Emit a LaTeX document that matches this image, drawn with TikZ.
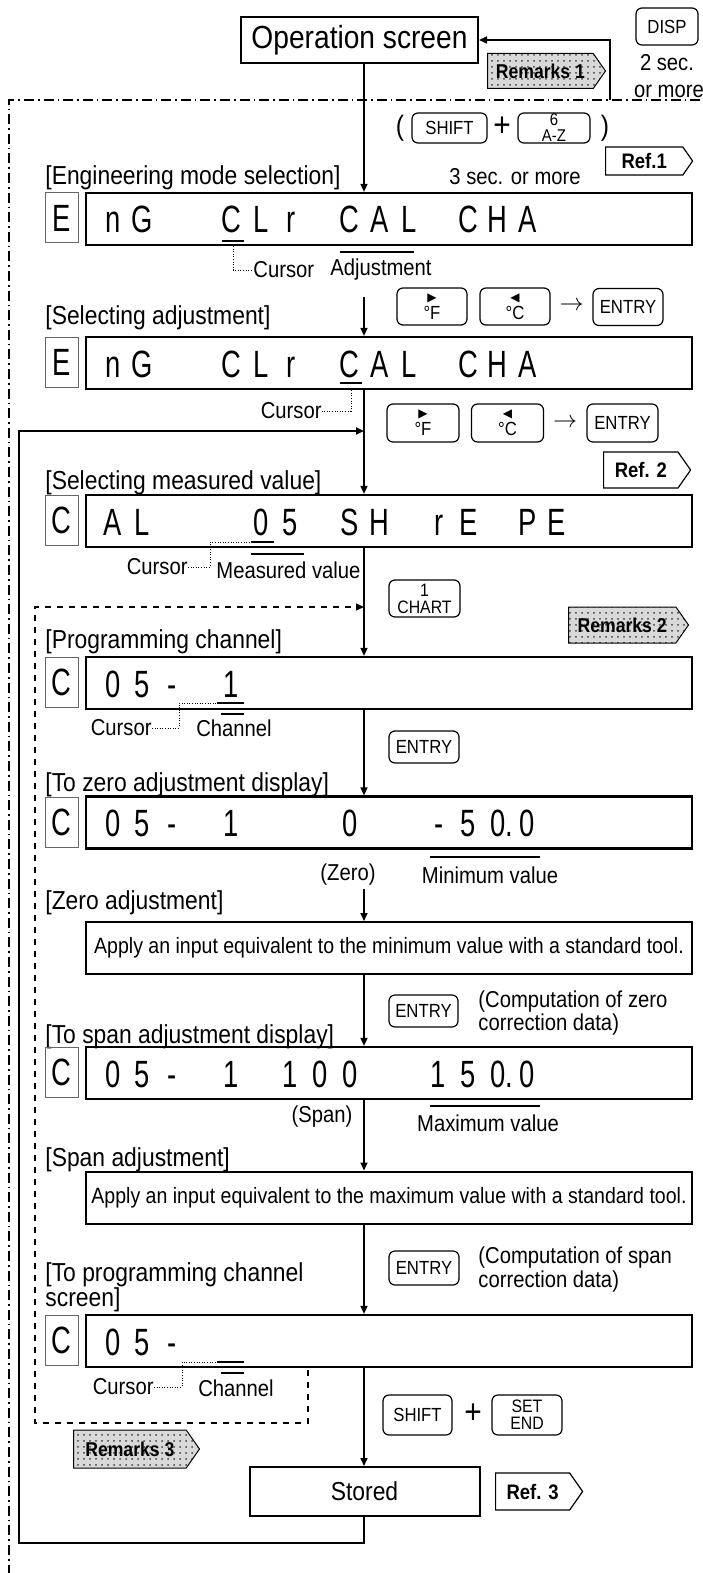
\documentclass[tikz,border=0pt]{standalone}
\usepackage{fontspec}
\setmainfont{Liberation Sans}[FakeStretch=0.88]
\newfontfamily\segfont{Liberation Sans}[FakeStretch=0.72]
\newfontfamily\trifont{DejaVu Sans}
\usetikzlibrary{shapes.symbols, arrows.meta, positioning, patterns, calc}

\newcommand{\rtri}{{\trifont\fontsize{6}{6}\selectfont ▶}}
\newcommand{\ltri}{{\trifont\fontsize{6}{6}\selectfont ◀}}
% one row of display characters, one cell every 29.6 px
\newcommand{\segrow}[3]{%
  \foreach \sg [count=\k from 0] in {#3}
    \node[segch] (#1-\k) at ({113+29.6*\k},#2) {\sg};}

\begin{document}
\begin{tikzpicture}[
  x=0.5pt, y=-0.5pt,
  font=\fontsize{11.5}{13}\selectfont,
  every node/.style={align=center, inner sep=0pt},
  title/.style={anchor=west, font=\fontsize{13}{14}\selectfont},
  note/.style={font=\fontsize{11.5}{12.5}\selectfont},
  flowbox/.style={draw, line width=1pt, minimum width=303pt, minimum height=26pt,
    font=\fontsize{11.1}{12}\selectfont},
  lcd/.style={draw, line width=1.1pt, minimum width=303pt, minimum height=26pt},
  lcdtag/.style={draw=black!60, line width=0.5pt, minimum width=16.5pt, minimum height=25pt,
    font=\segfont\fontsize{19}{19}\selectfont},
  segch/.style={anchor=base, font=\segfont\fontsize{19}{19}\selectfont},
  key/.style={draw, rounded corners=3pt, line width=0.6pt, minimum width=35pt,
    minimum height=18.5pt, font=\fontsize{9.5}{9}\selectfont},
  remark/.style={signal, signal to=east, signal pointer angle=110, draw, line width=0.5pt,
    preaction={fill=gray!30}, pattern=dots, pattern color=black!75,
    minimum width=59pt, minimum height=17.5pt, font=\bfseries\fontsize{10}{10}\selectfont},
  reftag/.style={signal, signal to=east, signal pointer angle=110, draw, line width=0.6pt,
    fill=white, minimum width=43.5pt, minimum height=18pt,
    font=\bfseries\fontsize{10.5}{10.5}\selectfont},
  arrow/.style={-{Triangle[length=4pt, width=3.5pt]}, line width=0.8pt},
  bar/.style={line width=1.2pt},
  leader/.style={line width=0.5pt, dash pattern=on 0.5pt off 0.8pt},
  frameline/.style={line width=0.6pt, dash pattern=on 5pt off 2pt on 0.8pt off 2pt},
]
\useasboundingbox (0,0) rectangle (702,1573);
\clip (0,0) rectangle (702,1573);
\coordinate (col) at (364,0);

% outer frame, runs off the page
\draw[frameline] (720,100) -- (9,100) -- (9,1600);

% operation screen
\node[flowbox, minimum width=118.5pt, minimum height=23pt, font=\fontsize{16}{16}\selectfont] (opscr) at (359.5,40) {Operation screen};
\node[key, minimum width=31pt] (disp) at (667,26.5) {DISP};
\node[note] (twosec) at (667,63) {2 sec.};
\node[note] (ormore) at (669,91) {or more};
\coordinate (ret) at (610,100);
\draw[arrow] (ret) |- (opscr.east);
\node[remark, anchor=west] (rem1) at (487,71) {Remarks 1};

\node[font=\fontsize{14}{14}\selectfont] (lpar) at (400,128) {(};
\node[key, minimum width=37.5pt, minimum height=15pt] (shift1) at (449.5,128) {SHIFT};
\node[font=\fontsize{17}{17}\selectfont] (plus1) at (502,127) {+};
\node[key, minimum width=36pt, minimum height=15pt, font=\fontsize{8.5}{8}\selectfont] (az) at (554,128) {6\\A-Z};
\node[font=\fontsize{14}{14}\selectfont] (rpar) at (605,128) {)};
\node[note] (sec3) at (515,177) {3 sec. or more};
\node[reftag, anchor=west, minimum height=14pt] (ref1) at (605,161) {Ref.1};

% engineering mode selection
\node[title] (h1) at (45,178) {[Engineering mode selection]};
\node[lcdtag] (t1) at (61.5,218) {E};
\node[lcd] (d1) at (389,219) {};
\segrow{s1}{233}{n,G,,,C,L,r,,C,A,L,,C,H,A}
\draw[arrow] (opscr.south -| col) -- (d1.north -| col);
\coordinate (u1) at (233,241);
\draw[bar] ([xshift=-5.5pt]u1) -- ([xshift=5.5pt]u1);
\draw[bar] (340,252) -- (414,252);
\node[note, anchor=west] (cur1) at (253,270) {Cursor};
\node[note] (adj) at (381,270) {Adjustment};
\draw[leader] (u1 |- d1.south) |- (cur1.west);

% selecting adjustment
\coordinate (a2) at (364,297);
\node[key] (fk1) at (432,306.5) {\rtri\\°F};
\node[key] (ck1) at (515,306.5) {\ltri\\°C};
\node[font=\fontsize{12}{12}\selectfont] (to1) at (571.5,306) {$\rightarrow$};
\node[key] (ent1) at (628,307) {ENTRY};
\node[title] (h2) at (45,318) {[Selecting adjustment]};
\node[lcdtag] (t2) at (61.5,362) {E};
\node[lcd] (d2) at (389,363) {};
\segrow{s2}{377}{n,G,,,C,L,r,,C,A,L,,C,H,A}
\draw[arrow] (a2) -- (d2.north -| col);
\coordinate (u2) at (351,383);
\draw[bar] ([xshift=-5.5pt]u2) -- ([xshift=5.5pt]u2);
\node[note, anchor=east] (cur2) at (322,411) {Cursor};
\draw[leader] (u2 |- d2.south) |- (cur2.east);

% selecting measured value
\node[key, minimum width=36pt, minimum height=19pt] (fk2) at (423,423) {\rtri\\°F};
\node[key, minimum width=36pt, minimum height=19pt] (ck2) at (507.5,423) {\ltri\\°C};
\node[font=\fontsize{12}{12}\selectfont] (to2) at (565,423) {$\rightarrow$};
\node[key, minimum width=35.5pt, minimum height=19pt] (ent2) at (622.5,423) {ENTRY};
\node[reftag, anchor=west] (ref2) at (603,470) {Ref. 2};
\node[title] (h3) at (45,483) {[Selecting measured value]};
\node[lcdtag] (t3) at (61.5,520) {C};
\node[lcd] (d3) at (389,521) {};
\segrow{s3}{535}{A,L,,,,0,5,,S,H,,r,E,,P,E}
\draw[arrow] (d2.south -| col) -- (d3.north -| col);
\coordinate (u3) at (262.5,542);
\draw[bar] ([xshift=-5.75pt]u3) -- ([xshift=5.75pt]u3);
\draw[bar] (251,554) -- (304,554);
\node[note, anchor=east] (cur3) at (188,567) {Cursor};
\node[note] (meas) at (288.5,570) {Measured value};
\draw[leader] (cur3.east) -| ([xshift=-26.25pt]u3) -- ([xshift=-5.75pt]u3);

% programming channel
\node[key, minimum width=35.5pt, minimum height=18.5pt, font=\fontsize{9}{8.5}\selectfont] (chart) at (424.5,598.5) {1\\CHART};
\node[remark, anchor=west, minimum width=60pt, minimum height=18pt] (rem2) at (568,625) {Remarks 2};
\node[title] (h4) at (45,642) {[Programming channel]};
\node[lcdtag] (t4) at (61.5,682) {C};
\node[lcd] (d4) at (389,683) {};
\segrow{s4}{697}{0,5,-,,1}
\draw[arrow] (d3.south -| col) -- (d4.north -| col);
\coordinate (u4) at (230.5,703);
\draw[bar] ([xshift=-6.75pt]u4) -- ([xshift=6.75pt]u4);
\draw[bar] (221,714) -- (244,714);
\node[note, anchor=east] (cur4) at (152,728) {Cursor};
\node[note] (chan4) at (234,728) {Channel};
\draw[leader] (cur4.east) -| ([xshift=-25.75pt]u4) -- ([xshift=-6.75pt]u4);

% zero adjustment
\node[key, minimum width=35pt, minimum height=16pt] (ent3) at (424,747) {ENTRY};
\node[title] (h5) at (45,785) {[To zero adjustment display]};
\node[lcdtag] (t5) at (61.5,822) {C};
\node[lcd] (d5) at (389,822.5) {};
\segrow{s5}{836.5}{0,5,-,,1,,,,0,,,-,5,,0}
\node[segch, anchor=base west] (dig5) at ({113+29.6*13-7.6},836.5) {0.};
\draw[arrow] (d4.south -| col) -- (d5.north -| col);
\draw[bar] (430,857) -- (540,857);
\node[note] (zero) at (348,875) {(Zero)};
\node[note] (minv) at (490,875) {Minimum value};
\coordinate (a6) at (364,889);
\node[title] (h6) at (45,903) {[Zero adjustment]};
\node[flowbox] (zbox) at (389,948) {Apply an input equivalent to the minimum value with a standard tool.};
\draw[arrow] (a6) -- (zbox.north -| col);

% span adjustment
\node[key, minimum width=34.5pt, minimum height=16pt] (ent4) at (423.5,1011) {ENTRY};
\node[note, anchor=west, align=left, font=\fontsize{11.5}{10}\selectfont] (comp1) at (478,1013) {(Computation of zero\\correction data)};
\node[title] (h7) at (45,1037) {[To span adjustment display]};
\node[lcdtag] (t6) at (61.5,1072) {C};
\node[lcd] (d6) at (389,1073) {};
\segrow{s6}{1087}{0,5,-,,1,,1,0,0,,,1,5,,0}
\node[segch, anchor=base west] (dig6) at ({113+29.6*13-7.6},1087) {0.};
\draw[arrow] (zbox.south -| col) -- (d6.north -| col);
\draw[bar] (430,1106) -- (540,1106);
\node[note] (span) at (322,1117) {(Span)};
\node[note] (maxv) at (488,1123) {Maximum value};
\node[title] (h8) at (45,1160) {[Span adjustment]};
\node[flowbox] (sbox) at (389,1197.5) {Apply an input equivalent to the maximum value with a standard tool.};
\draw[arrow] (d6.south -| col) -- (sbox.north -| col);

% back to programming channel
\node[key, minimum width=35pt, minimum height=17pt] (ent5) at (424,1268) {ENTRY};
\node[note, anchor=west, align=left, font=\fontsize{11.5}{12}\selectfont] (comp2) at (478,1270) {(Computation of span\\correction data)};
\node[title, align=left, font=\fontsize{13}{12.5}\selectfont] (h9) at (45,1287) {[To programming channel\\screen]};
\node[lcdtag] (t7) at (61.5,1340) {C};
\node[lcd] (d7) at (389,1341) {};
\segrow{s7}{1355}{0,5,-}
\draw[arrow] (sbox.south -| col) -- (d7.north -| col);
\coordinate (u7) at (230.5,1362);
\draw[bar] ([xshift=-6.75pt]u7) -- ([xshift=6.75pt]u7);
\draw[bar] (221,1373) -- (244,1373);
\node[note, anchor=east] (cur7) at (154,1387) {Cursor};
\node[note] (chan7) at (236,1388) {Channel};
\draw[leader] (cur7.east) -| ([xshift=-24.25pt]u7) -- ([xshift=-6.75pt]u7);

% store
\node[key, minimum width=34.5pt, minimum height=20pt] (shift2) at (417.5,1415) {SHIFT};
\node[font=\fontsize{17}{17}\selectfont] (plus2) at (473,1414) {+};
\node[key, minimum width=35pt, minimum height=20pt, font=\fontsize{9}{8.5}\selectfont] (setend) at (527,1415) {SET\\END};
\node[remark, anchor=west, minimum width=63pt, minimum height=19pt] (rem3) at (73,1449) {Remarks 3};
\node[flowbox, minimum width=115pt, minimum height=24.5pt, font=\fontsize{13}{13}\selectfont] (stored) at (364.5,1491.5) {Stored};
\node[reftag, anchor=west, minimum height=18.5pt] (ref3) at (495,1491.5) {Ref. 3};
\draw[arrow] (d7.south -| col) -- (stored.north -| col);

% loops
\coordinate (loopbl) at (19,1543);
\coordinate (looptl) at (19,431);
\coordinate (loopin) at (364,431);
\draw[arrow, line width=1pt] (stored.south -| col) |- (loopbl) -- (looptl) -- (loopin);
\coordinate (dsh) at (308,1370);
\coordinate (dbl) at (35,1423);
\coordinate (dloop) at (364,607);
\draw[arrow, dashed, line width=0.7pt] (dsh) |- (dbl) |- (dloop);
\end{tikzpicture}
\end{document}
